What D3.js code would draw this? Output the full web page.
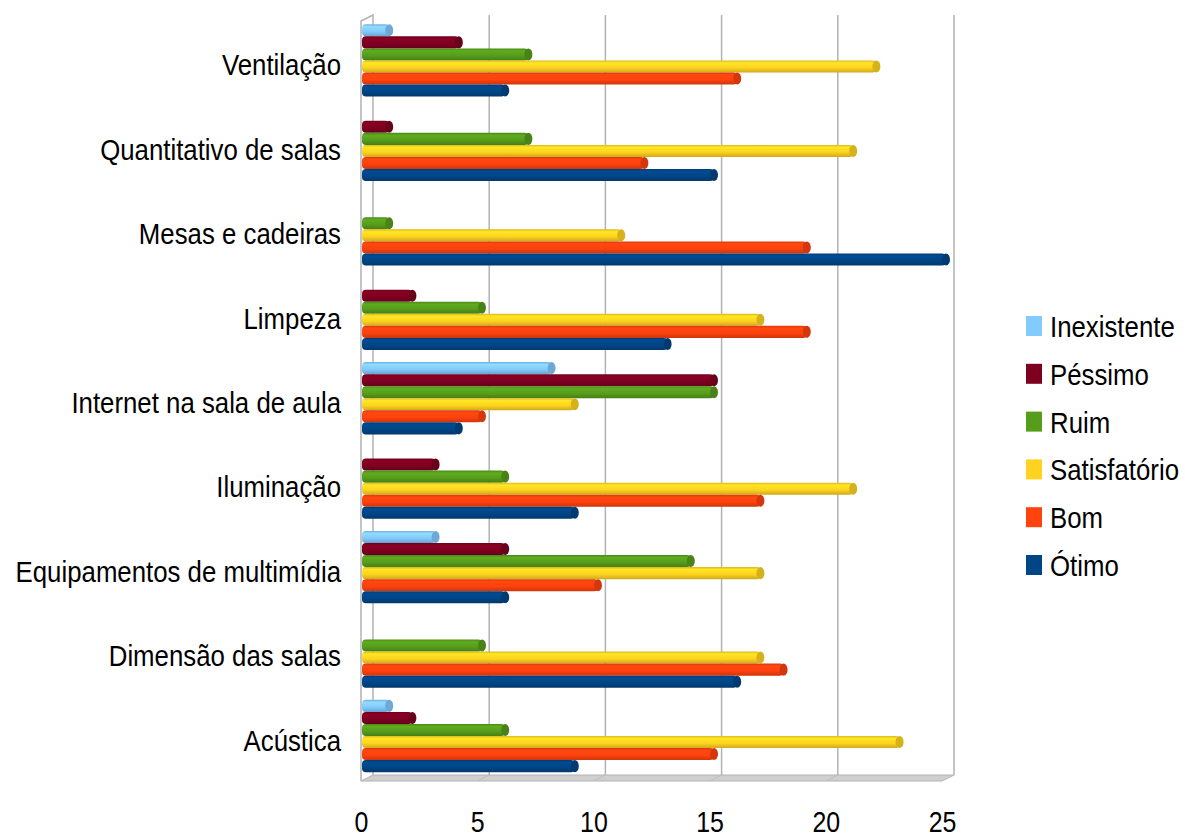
<!DOCTYPE html>
<html>
<head>
<meta charset="utf-8">
<script src="https://cdn.jsdelivr.net/npm/d3@7"></script>
<style>
  body { margin: 0; background: #fff; }
  text { font-family: "Liberation Sans", Arial, sans-serif; fill: #000; }
</style>
</head>
<body>
<div id="chart"></div>
<script>
// Chart data.
const categories = ["Ventilação", "Quantitativo de salas", "Mesas e cadeiras", "Limpeza",
  "Internet na sala de aula", "Iluminação", "Equipamentos de multimídia",
  "Dimensão das salas", "Acústica"];
const seriesNames = ["Inexistente", "Péssimo", "Ruim", "Satisfatório", "Bom", "Ótimo"];
const seriesColors = ["#83caff", "#7e0021", "#579d1c", "#ffd320", "#ff420e", "#004586"];
const inexistente = [1, 0, 0, 0, 8, 0, 3, 0, 1];
const pessimo = [4, 1, 0, 2, 15, 3, 6, 0, 2];
const ruim = [7, 7, 1, 5, 15, 6, 14, 5, 6];
const satisfatorio = [22, 21, 11, 17, 9, 21, 17, 17, 23];
const bom = [16, 12, 19, 19, 5, 17, 10, 18, 15];
const otimo = [6, 15, 25, 13, 4, 9, 6, 16, 9];
const xTicks = [0, 5, 10, 15, 20, 25];

const seriesValues = [inexistente, pessimo, ruim, satisfatorio, bom, otimo];
const squeeze = 0.86; // text in the picture is narrowed horizontally

let svg = d3.select("#chart").append("svg")
    .attr("width", 1185)
    .attr("height", 839);

// Depth offset of the pseudo-3D box (back wall vs. front edge).
let depth = {dx: 12, dy: -6};

// Scales: front edge, back wall, bars in the middle.
let xFront = d3.scaleLinear().domain([0, 25]).range([361, 942]);
let xBack = d3.scaleLinear().domain([0, 25]).range([361 + depth.dx, 942 + depth.dx]);
let xBar = d3.scaleLinear().domain([0, 25]).range([366, 946]);

let yTop = 21, yBottom = 781;
let y = d3.scaleBand().domain(categories).range([18, 778]);
let ySeries = d3.scaleBand().domain(seriesNames).range([6.3, 78.6]);

// Gradients for the cylinder look.
let defs = svg.append("defs");
seriesColors.forEach((c, i) => {
  let g = defs.append("linearGradient")
      .attr("id", "grad" + i)
      .attr("x1", 0).attr("y1", 0).attr("x2", 0).attr("y2", 1);
  let base = d3.color(c);
  g.append("stop").attr("offset", "0%").attr("stop-color", base.darker(0.4));
  g.append("stop").attr("offset", "20%").attr("stop-color", base.brighter(0.25));
  g.append("stop").attr("offset", "60%").attr("stop-color", base);
  g.append("stop").attr("offset", "100%").attr("stop-color", base.darker(0.6));
});

// Floor slab.
svg.append("path")
    .attr("d", `M${xFront(0)},${yBottom} L${xBack(0)},${yBottom + depth.dy} L${xBack(25)},${yBottom + depth.dy} L${xFront(25)},${yBottom} Z`)
    .attr("fill", "#cfcfcf")
    .attr("stroke", "#b3b3b3")
    .attr("stroke-width", 1);

svg.selectAll(".floorline")
  .data(xTicks.slice(1, -1))
  .join("line")
    .attr("x1", d => xFront(d)).attr("y1", yBottom)
    .attr("x2", d => xBack(d)).attr("y2", yBottom + depth.dy)
    .attr("stroke", "#bdbdbd");

// Left side wall.
svg.append("path")
    .attr("d", `M${xFront(0)},${yBottom} L${xFront(0)},${yTop} L${xBack(0)},${yTop + depth.dy} L${xBack(0)},${yBottom + depth.dy}`)
    .attr("fill", "none")
    .attr("stroke", "#b3b3b3")
    .attr("stroke-width", 1.5);

// Vertical gridlines on the back wall.
svg.selectAll(".grid")
  .data(xTicks.slice(1))
  .join("line")
    .attr("x1", d => xBack(d)).attr("y1", yTop + depth.dy)
    .attr("x2", d => xBack(d)).attr("y2", yBottom + depth.dy)
    .attr("stroke", "#b3b3b3")
    .attr("stroke-width", 1.5);

// Bars.
let rows = [];
categories.forEach((cat, ci) => {
  seriesNames.forEach((s, si) => {
    rows.push({cat: cat, series: s, si: si, value: seriesValues[si][ci]});
  });
});
rows = rows.filter(d => d.value > 0);

let bars = svg.selectAll(".bar")
  .data(rows)
  .join("g")
    .attr("transform", d => `translate(0,${y(d.cat) + ySeries(d.series)})`);

let bh = ySeries.bandwidth();

bars.append("rect")
    .attr("x", xBar(0) - 4)
    .attr("y", 0)
    .attr("width", d => xBar(d.value) - xBar(0) + 4)
    .attr("height", bh)
    .attr("rx", 4)
    .attr("fill", d => `url(#grad${d.si})`);

bars.append("ellipse")
    .attr("cx", d => xBar(d.value))
    .attr("cy", bh / 2)
    .attr("rx", 4)
    .attr("ry", bh / 2)
    .attr("fill", d => d3.color(seriesColors[d.si]).darker(0.5));

// Category labels.
let yAxis = svg.append("g")
    .attr("transform", "translate(341,0)")
    .call(d3.axisLeft(y).tickSize(0).tickPadding(0));
yAxis.select(".domain").remove();
yAxis.selectAll("text")
    .attr("x", 0)
    .attr("dy", 15)
    .attr("font-size", 30)
    .attr("font-family", "Liberation Sans, Arial, sans-serif")
    .attr("transform", `scale(${squeeze},1)`);

// X tick labels along the front edge.
let xAxis = svg.append("g")
    .attr("transform", "translate(0,832)")
    .call(d3.axisBottom(xFront).tickValues(xTicks).tickSize(0));
xAxis.select(".domain").remove();
xAxis.selectAll("text")
    .attr("y", 0)
    .attr("dy", 0)
    .attr("font-size", 29)
    .attr("font-family", "Liberation Sans, Arial, sans-serif")
    .attr("transform", `scale(${squeeze},1)`);

// Legend.
let legend = svg.append("g")
    .attr("transform", "translate(1026,326)");
let items = legend.selectAll("g")
  .data(seriesNames)
  .join("g")
    .attr("transform", (d, i) => `translate(0,${i * 47.8})`);
items.append("rect")
    .attr("x", 0).attr("y", -10)
    .attr("width", 16).attr("height", 20)
    .attr("fill", (d, i) => seriesColors[i]);
items.append("text")
    .attr("transform", `translate(24,11) scale(${squeeze},1)`)
    .attr("font-size", 30)
    .text(d => d);
</script>
</body>
</html>
